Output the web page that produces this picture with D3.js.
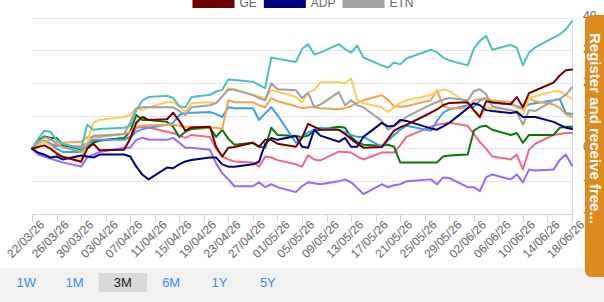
<!DOCTYPE html>
<html><head><meta charset="utf-8">
<script src="https://cdn.jsdelivr.net/npm/d3@7"></script>
<style>
html,body{margin:0;padding:0;background:#f1f1f1;overflow:hidden;}
svg{display:block;font-family:"Liberation Sans",Arial,Helvetica,sans-serif;}
</style></head><body>
<svg id="c" width="604" height="302"></svg>
<script>
// ---- data ----
const dates = ["22/03/26","23/03/26","24/03/26","25/03/26","26/03/26","27/03/26",
"30/03/26","31/03/26","01/04/26","02/04/26",
"06/04/26","07/04/26","08/04/26","09/04/26","10/04/26",
"13/04/26","14/04/26","15/04/26","16/04/26","17/04/26",
"20/04/26","21/04/26","22/04/26","23/04/26","24/04/26",
"27/04/26","28/04/26","29/04/26","30/04/26","01/05/26",
"04/05/26","05/05/26","06/05/26","07/05/26","08/05/26",
"11/05/26","12/05/26","13/05/26","14/05/26","15/05/26",
"18/05/26","19/05/26","20/05/26","21/05/26","22/05/26",
"26/05/26","27/05/26","28/05/26","29/05/26",
"01/06/26","02/06/26","03/06/26","04/06/26","05/06/26",
"08/06/26","09/06/26","10/06/26","11/06/26","12/06/26",
"15/06/26","16/06/26","17/06/26","18/06/26"];

const tickLabels = ["22/03/26","26/03/26","30/03/26","03/04/26","07/04/26","11/04/26","15/04/26",
"19/04/26","23/04/26","27/04/26","01/05/26","05/05/26","09/05/26","13/05/26","17/05/26",
"21/05/26","25/05/26","29/05/26","02/06/26","06/06/26","10/06/26","14/06/26","18/06/26"];

const yTicks = [-20,-10,0,10,20,30,40];

const GE  = [0,0.5,1,0,-1.5,-2.5, -4,0,1.5,-0.5, -0.3,3,8,9.7,8.8, 9,11,8.5,5.5,6.5, 6.7,0.6,-2.4,0.3,0.5, 1.8,0.6,2.7,2.7,1.5, 0.6,3.3,7.6,6.7,5.8, 5.8,4.5,3,1.5,0.3, 0.5,3,5.5,6.5,7.3, 11,12,13.3,14, 14.2,11.8,9.7,14.5,14.2, 13.6,15.8,12.7,17,17.8, 20.2,22.4,24,24.2];
const ADP = [0,-1.2,-1.8,-2.7,-2.4,-3.3, -2.1,-2.4,-2.7,-1.8, -1.8,-2.4,-5.5,-8,-9.4, -5.8,-6,-4.8,-3.9,-3.5, -2.7,-2.7,-4.8,-5.5,-5.5, -4.8,-4,1.5,3.3,2.7, 3.9,0.6,0.3,5.8,4, 2.1,3.3,0.6,0.6,3.6, 7.9,6.8,7,8.8,8.5, 6.2,5.8,6.8,7.9, 12.4,13.9,13.3,11.8,11.5, 10.9,11.2,9.7,9.7,9.7, 8.2,7.3,6.4,6];
const ETN = [0,2,3.5,3,1.5,0.5, -1,1,4,4, 4.5,8,12.4,12.7,12.7, 12.7,12.7,11.5,10.3,12.7, 13.3,14,16,18,18, 16.4,15.5,14.8,20,18.2, 17.9,15.5,17,12.7,13.5, 17.3,13.3,14.8,13.3,12.7, 8.5,5.8,7,8.2,9.7, 13.5,14.2,15,15.5, 14.8,17.6,18.2,16.7,13, 11.8,11.2,7.3,11.8,11.5, 14.8,15.2,16.5,18.8];
const seriesTeal   = [0,3,5.5,5.2,2.7,1.5, 0,7.3,5.8,6, 6.4,7,11.8,14.8,15.8, 16.2,15.5,13,12.7,15.8, 16.5,17.5,18,21.2,21, 20.5,19.5,18.5,27.9,27.5, 26.5,30.5,32,28.8,29.4, 32,30.5,29.4,31.5,27.9, 25.5,24.8,26.4,25.8,27.6, 30.3,29.5,27.9,27, 25.5,30.6,33,34.5,30.3, 31.8,30.9,25.5,29.4,31, 34,35,36.5,39];
const seriesYellow = [0,1,2,1,-1,-2.5, -3,2,8,8.8, 9.7,10.3,12.4,11.8,12.7, 14.2,14.2,13,11.2,13.9, 14.2,13.9,16,18.5,18.2, 16.5,16,15.5,17.9,17.5, 15.8,14.2,17.3,17.9,20.3, 20.3,20,21.5,14.8,13.9, 12.7,11.2,12.7,14,14.8, 16.4,17.3,18.2,17.6, 13.9,11.5,9.4,12.7,12.4, 11.8,11.5,10.3,15.5,16, 17.6,17.6,16.5,15.2];
const seriesOrange = [0,1.2,2.1,2.7,2,1.8, 2.1,3.6,3.6,3.6, 4.5,5,6.7,7,7.2, 7.3,7.3,7,6.7,6.7, 6.4,6.4,6,14.8,14.2, 14.2,13.3,12.7,15.5,14.5, 13,12.4,12.7,12.7,12.4, 12.1,12.4,13,14,14.8, 16.4,15,13,12.8,13, 14.8,17.9,13,12.4, 12.4,14.8,15.2,15.5,14.8, 14.2,12.7,12,15.5,14.5, 13.5,12.5,10.5,9.7];
const seriesBlue   = [0,1,2.5,1.5,0,-1, -1,1.5,2.7,2.7, 2.7,3.3,5.2,6,6.4, 7.3,7.9,10.3,10.9,11, 11.2,10.6,9.7,12.7,12.4, 12.4,8.8,10.8,12.7,10.3, 1.8,3.6,5,5.8,6.4, 5.8,5,4.2,3.6,3.6, 0.6,2.4,4.2,5.8,7, 5.5,8.5,11,12, 13.3,12.7,14.8,15.5,14, 13.6,13,12.4,13.6,13.9, 14.8,15.2,10.9,10.6];
const seriesGreen  = [0,2.5,3.8,3.3,3.3,1.2, -0.3,0.5,1.8,2.5, 3.3,5.2,10.3,8.8,8.8, 8.2,6.7,3.6,5.2,6, 6.4,3.6,5.8,3,1.2, 1.8,0.6,0.3,6.4,4.2, 3.9,3.6,4,5.5,5.8, 6.7,6.4,3.6,2,1.2, 0.9,1.2,0.6,-4.2,-4.2, -4.2,-4.2,-2.4,-2.1, -1.8,5.5,6.7,7,5.8, 4.2,4.8,1.8,4.2,4.2, 4.2,6.4,6.7,6.7];
const seriesPink   = [0,1.2,2,1.5,0.8,1, 0.6,1.8,2.1,2.5, 3.3,3.6,6.4,6.7,6.5, 5.2,4.8,4,3.3,4.2, 3.6,0,-2.4,-3.3,-3.9, -4.2,-5.5,-2.4,-2.7,-3.5, -4.8,-5.5,-2,-3.3,-3.6, -0.9,-1,-1.2,-2.4,-3.3, -1.2,-1.2,-1.2,1,3.6, 6.7,7.3,7.6,7.9, 7,4.5,2,0,-2.4, -3.3,-1.8,-6.4,-0.3,1.5, 4.2,4.5,4.8,4.8];
const seriesPurple = [0,-1.8,-2.4,-3,-3.6,-4.2, -5.5,-2.7,-1.8,-1, 0.3,0.3,2.7,3.3,2.8, 2.7,3.3,1.8,0.3,0.3, -0.3,-4.5,-7.5,-9.4,-11.5, -11.5,-10.3,-11.8,-10.9,-11.8, -13.3,-11.5,-10.3,-10.6,-10.9, -10,-9.4,-10.3,-12,-13.9, -10.9,-11.8,-11.2,-10.9,-10, -9.4,-10.9,-8.8,-9, -11.8,-11.8,-13,-8.8,-7.9, -9.4,-7.9,-10.3,-6.4,-6.7, -6.4,-3.5,-1.8,-5.2];

const seriesNames  = ["GE","ADP","ETN","Teal","Yellow","Orange","Blue","Green","Pink","Purple"];
const seriesValues = [GE,ADP,ETN,seriesTeal,seriesYellow,seriesOrange,seriesBlue,seriesGreen,seriesPink,seriesPurple];
const legendNames  = ["GE","ADP","ETN"];
const rangeButtons = ["1W","1M","3M","6M","1Y","5Y"];
const activeRange  = "3M";
const panelText    = "Register and receive free...";

// ---- styles ----
const colors = ["#6e0000","#000080","#a0a0a0","#4bc0c0","#ffcd56","#f9a04e","#36a2eb","#0b750b","#f2668a","#9966ff"];

// ---- drawing ----
const svg = d3.select("#c");
const parse = d3.timeParse("%d/%m/%y");
const fmt = d3.timeFormat("%d/%m/%y");
const W = 604, H = 302;

svg.append("rect").attr("x",0).attr("y",0).attr("width",W).attr("height",268).attr("fill","#ffffff");

const x = d3.scaleTime().domain([parse(tickLabels[0]), parse(tickLabels[tickLabels.length-1])]).range([32,572]);
const y = d3.scaleLinear().domain([-20,40]).range([214,18]);

// grid
svg.append("g").selectAll("line").data(yTicks).join("line")
  .attr("x1",32).attr("x2",572)
  .attr("y1",d=>y(d)).attr("y2",d=>y(d))
  .attr("stroke",d=>d===-20?"#cfcfcf":"#e4e4e4").attr("stroke-width",1)
  .attr("shape-rendering","crispEdges");

// right border
svg.append("line").attr("x1",572).attr("x2",572).attr("y1",y(40)).attr("y2",222)
  .attr("stroke","#dcdcdc").attr("shape-rendering","crispEdges");

// x axis
const xAxis = d3.axisBottom(x).tickValues(tickLabels.map(parse)).tickSize(8).tickFormat(fmt);
const gx = svg.append("g").attr("transform","translate(0,214)").call(xAxis);
gx.select(".domain").remove();
gx.selectAll(".tick line").attr("stroke","#d6d6d6").attr("shape-rendering","crispEdges");
gx.selectAll(".tick text")
  .attr("fill","#666").attr("font-size","12px")
  .attr("font-family","Liberation Sans, Arial, sans-serif")
  .attr("text-anchor","end")
  .attr("transform","translate(4,3) rotate(-45)")
  .attr("x",0).attr("y",8).attr("dy","0.35em");

// y labels (right)
svg.append("g").selectAll("text").data(yTicks).join("text")
  .attr("x",583).attr("y",d=>y(d)-2).attr("dy","0.35em")
  .attr("fill","#666").attr("font-size","12px").text(d=>d);

// lines
const line = d3.line().x((d,i)=>x(parse(dates[i]))).y(d=>y(d));
const order = d3.range(seriesValues.length).reverse();
svg.append("g").selectAll("path").data(order).join("path")
  .attr("d",i=>line(seriesValues[i]))
  .attr("fill","none").attr("stroke",i=>colors[i]).attr("stroke-width",2)
  .attr("stroke-linejoin","round").attr("stroke-linecap","round");

// legend (visible row)
const lg = svg.append("g").attr("font-size","12px");
const tmp = lg.append("text").attr("font-size","12px");
const widths = legendNames.map(n=>{tmp.text(n); return tmp.node().getComputedTextLength();});
tmp.remove();
const boxW = 42, gapBT = 5, gapItem = 7;
const total = d3.sum(widths) + legendNames.length*(boxW+gapBT) + (legendNames.length-1)*gapItem;
let cx = 303 - total/2;
legendNames.forEach((n,k)=>{
  const idx = seriesNames.indexOf(n);
  lg.append("rect").attr("x",cx).attr("y",-4).attr("width",boxW).attr("height",12).attr("fill",colors[idx]);
  lg.append("text").attr("x",cx+boxW+gapBT).attr("y",7).attr("fill","#666").text(n);
  cx += boxW + gapBT + widths[k] + gapItem;
});

// range buttons
const bx = d3.scaleBand().domain(rangeButtons).range([2,292]);
const bg = svg.append("g");
bg.selectAll("rect").data(rangeButtons.filter(r=>r===activeRange)).join("rect")
  .attr("x",d=>bx(d)).attr("y",273).attr("width",bx.bandwidth()).attr("height",19).attr("fill","#d9d9d9");
bg.selectAll("text").data(rangeButtons).join("text")
  .attr("x",d=>bx(d)+bx.bandwidth()/2).attr("y",287).attr("text-anchor","middle")
  .attr("font-size","13px").attr("fill",d=>d===activeRange?"#222":"#3d8fe0").text(d=>d);

// side panel
svg.append("rect").attr("x",585).attr("y",15).attr("width",30).attr("height",262).attr("rx",6).attr("fill","#df8a1c");
svg.append("text").attr("transform","translate(590,33) rotate(90)")
  .attr("fill","#fff").attr("font-size","15px").attr("font-weight","bold").text(panelText);
</script>
</body></html>
